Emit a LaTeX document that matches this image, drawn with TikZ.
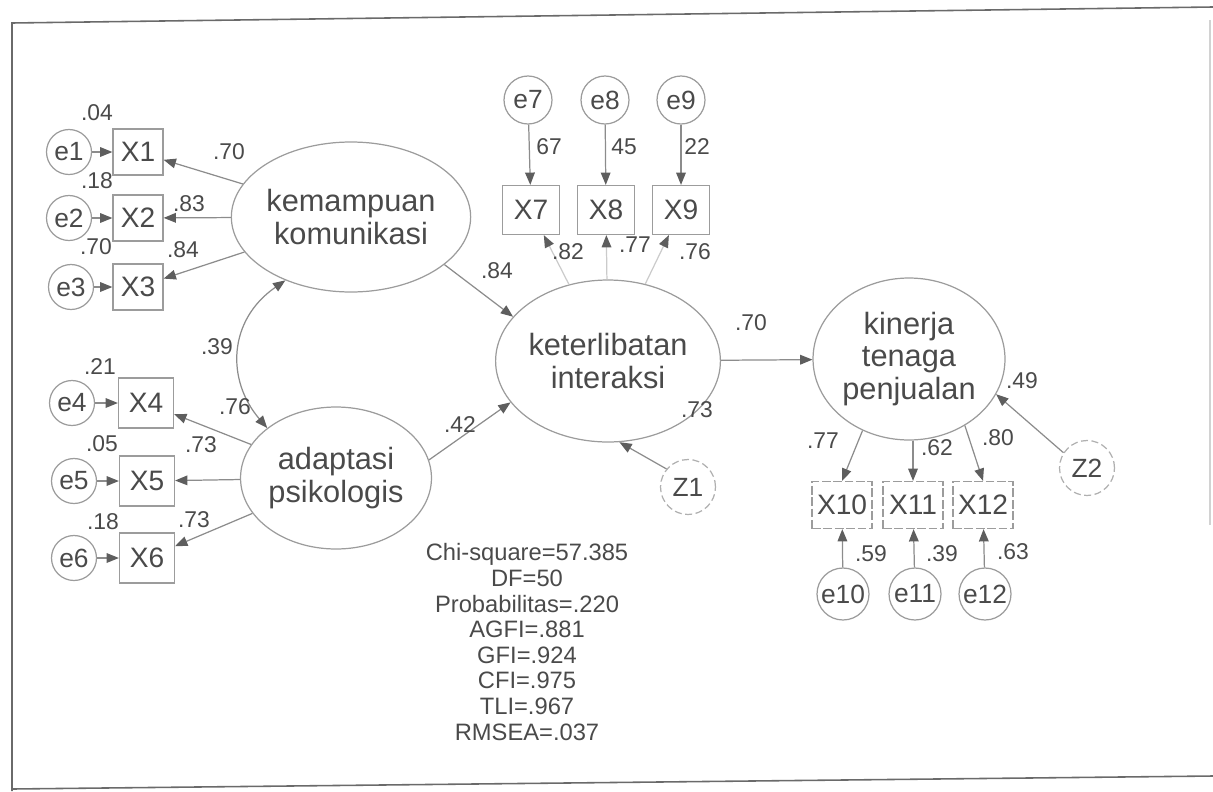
\documentclass[tikz,border=0pt]{standalone}
\usepackage{fontspec}
\setmainfont{Liberation Sans}
\usetikzlibrary{arrows.meta,shapes.geometric}
\definecolor{ink}{HTML}{4A4A4A}
\definecolor{edge}{HTML}{8C8C8C}
\definecolor{rim}{HTML}{9C9C9C}
\definecolor{tipc}{HTML}{5E5E5E}
\definecolor{framec}{HTML}{6A6A6A}
\begin{document}
\begin{tikzpicture}[x=0.02cm,y=-0.02cm,
  every node/.style={text=ink,inner sep=0pt},
  lat/.style={draw=rim,line width=0.7pt,ellipse,align=center,
              font=\fontsize{17.5}{18.5}\selectfont},
  obs/.style={draw=rim,line width=0.7pt,rectangle,font=\fontsize{16}{16}\selectfont},
  obsd/.style={obs,dash pattern=on 5pt off 1.5pt},
  err/.style={draw=rim,line width=0.7pt,circle,minimum size=0.9cm,
              font=\fontsize{15}{15}\selectfont},
  dist/.style={err,draw=rim!80,dash pattern=on 4pt off 2pt,minimum size=1.1cm},
  coef/.style={font=\fontsize{13}{13}\selectfont},
  arr/.style={draw=edge,line width=0.7pt,-{Triangle[length=7pt,width=5.5pt,color=tipc]}},
  faint/.style={arr,draw=edge!45},
  cov/.style={draw=edge,line width=0.7pt,
              {Triangle[length=7pt,width=5.5pt,color=tipc]}-{Triangle[length=7pt,width=5.5pt,color=tipc]}},
  stats/.style={align=center,font=\fontsize{13.5}{14.6}\selectfont}
 ]
\useasboundingbox (0,0) rectangle (1213,791);

% page frame
\draw[framec,line width=0.9pt] (1213,7) -- (12,23) -- (12,791);
\draw[framec,line width=0.9pt] (12,789) -- (1213,776);
\draw[gray!35,line width=0.6pt] (1210,20) -- (1210,525);

% latent variables
\node[lat,minimum width=4.12cm,minimum height=3.0cm]  (KK) at (351,217) {kemampuan\\komunikasi};
\node[lat,minimum width=3.72cm,minimum height=2.84cm] (AP) at (336,478) {adaptasi\\psikologis};
\node[lat,minimum width=3.8cm,minimum height=3.24cm]  (KI) at (608,361) {keterlibatan\\interaksi};
\node[lat,minimum width=3.84cm,minimum height=3.24cm] (KP) at (909,359) {kinerja\\tenaga\\penjualan};

% indicators of kemampuan komunikasi
\node[obs,minimum width=1.0cm,minimum height=0.92cm] (X1) at (138,152) {X1};
\node[obs,minimum width=1.0cm,minimum height=0.92cm] (X2) at (138,218) {X2};
\node[obs,minimum width=1.0cm,minimum height=0.92cm] (X3) at (138,287) {X3};
\node[err] (e1) at (69,152) {e1};
\node[err] (e2) at (69,218) {e2};
\node[err] (e3) at (71,287) {e3};

% indicators of adaptasi psikologis
\node[obs,minimum width=1.1cm,minimum height=1.0cm] (X4) at (146,403) {X4};
\node[obs,minimum width=1.1cm,minimum height=1.0cm] (X5) at (147,481) {X5};
\node[obs,minimum width=1.1cm,minimum height=1.0cm] (X6) at (147,558) {X6};
\node[err] (e4) at (72,403) {e4};
\node[err] (e5) at (74,481) {e5};
\node[err] (e6) at (74,558) {e6};

% indicators of keterlibatan interaksi
\node[obs,minimum width=1.14cm,minimum height=0.98cm] (X7) at (531,210) {X7};
\node[obs,minimum width=1.14cm,minimum height=0.98cm] (X8) at (606,210) {X8};
\node[obs,minimum width=1.14cm,minimum height=0.98cm] (X9) at (681,210) {X9};
\node[err,minimum size=0.96cm] (e7) at (528,100) {e7};
\node[err,minimum size=0.96cm] (e8) at (605,100) {e8};
\node[err,minimum size=0.96cm] (e9) at (681,100) {e9};

% indicators of kinerja tenaga penjualan
\node[obsd,minimum width=1.2cm,minimum height=0.94cm] (X10) at (842,505) {X10};
\node[obsd,minimum width=1.2cm,minimum height=0.94cm] (X11) at (913,505) {X11};
\node[obsd,minimum width=1.2cm,minimum height=0.94cm] (X12) at (983,505) {X12};
\node[err,minimum size=1.04cm] (e10) at (843,594) {e10};
\node[err,minimum size=1.04cm] (e11) at (915,594) {e11};
\node[err,minimum size=1.04cm] (e12) at (985,594) {e12};

% disturbances
\node[dist] (Z1) at (688,487) {Z1};
\node[dist] (Z2) at (1087,468) {Z2};

% measurement paths
\foreach \l/\x in {KK/X1,KK/X2,KK/X3,AP/X4,AP/X5,AP/X6}
  \draw[arr] (\l) -- (\x);
\foreach \e/\x in {e1/X1,e2/X2,e3/X3,e4/X4,e5/X5,e6/X6,e7/X7,e8/X8,e9/X9,e10/X10,e11/X11,e12/X12}
  \draw[arr] (\e) -- (\x);
\foreach \x in {X7,X8,X9}
  \draw[faint] (KI) -- (\x);
\draw[arr] (KP.237) -- (X10.north);
\draw[arr] (X11.north |- KP.south) -- (X11.north);
\draw[arr] (KP.310) -- (X12.north);

% structural paths
\draw[arr] (KK.333) -- (KI.155);
\draw[arr] (AP.11) -- (KI.203);
\draw[arr] (KI) -- (KP);
\draw[arr] (Z1.140) -- (KI.278);
\draw[arr] (Z2.147) -- (KP.338);
\draw[cov] (KK.224) .. controls (228,320) and (226,380) .. (AP.144);

% coefficients
\node[coef] (c1)  at (97,113)  {.04};
\node[coef] (c2)  at (97,181)  {.18};
\node[coef] (c3)  at (96,247)  {.70};
\node[coef] (c4)  at (229,152) {.70};
\node[coef] (c5)  at (189,204) {.83};
\node[coef] (c6)  at (183,250) {.84};
\node[coef] (c7)  at (100,367) {.21};
\node[coef] (c8)  at (102,444) {.05};
\node[coef] (c9)  at (103,522) {.18};
\node[coef] (c10) at (235,407) {.76};
\node[coef] (c11) at (201,445) {.73};
\node[coef] (c12) at (194,520) {.73};
\node[coef] (c13) at (217,347) {.39};
\node[coef] (c14) at (497,271) {.84};
\node[coef] (c15) at (460,425) {.42};
\node[coef] (c16) at (751,323) {.70};
\node[coef] (c17) at (697,410) {.73};
\node[coef] (c18) at (1022,381) {.49};
\node[coef] (c19) at (549,147) {67};
\node[coef] (c20) at (624,147) {45};
\node[coef] (c21) at (697,147) {22};
\node[coef] (c22) at (568,252) {.82};
\node[coef] (c23) at (635,245) {.77};
\node[coef] (c24) at (695,252) {.76};
\node[coef] (c25) at (823,441) {.77};
\node[coef] (c26) at (937,448) {.62};
\node[coef] (c27) at (998,438) {.80};
\node[coef] (c28) at (871,554) {.59};
\node[coef] (c29) at (942,554) {.39};
\node[coef] (c30) at (1013,552) {.63};

% fit statistics
\node[stats] (fit) at (527,642) {Chi-square=57.385\\DF=50\\Probabilitas=.220\\AGFI=.881\\GFI=.924\\CFI=.975\\TLI=.967\\RMSEA=.037};
\end{tikzpicture}
\end{document}
